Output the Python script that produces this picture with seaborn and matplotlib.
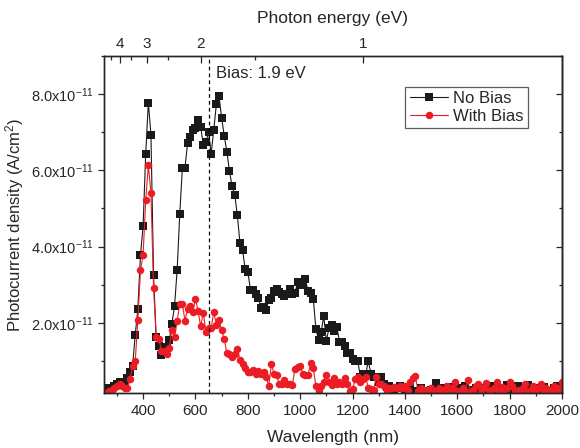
import numpy as np
import pandas as pd
import matplotlib
matplotlib.use('Agg')
import matplotlib.pyplot as plt
import seaborn as sns
from matplotlib.ticker import MultipleLocator, FixedLocator

# Wavelength grid (nm) and photocurrent (x1e-11 A/cm^2)
wavelength = np.arange(250, 2001, 10)

no_bias = [
    0.20, 0.25, 0.30, 0.28, 0.35, 0.40, 0.45, 0.38, 0.42, 0.55,   # 250-340
    0.70, 0.88, 1.69, 2.37, 3.78, 4.53, 6.43, 7.78, 6.94, 3.25,   # 350-440
    1.62, 1.40, 1.16, 1.36, 1.35, 1.55, 1.98, 2.43, 3.38, 4.85,   # 450-540
    6.06, 6.07, 6.72, 6.88, 7.06, 7.12, 7.31, 7.14, 6.66, 6.74,   # 550-640
    7.01, 6.44, 7.06, 7.75, 7.94, 7.38, 6.90, 6.49, 5.97, 5.58,   # 650-740
    5.36, 4.82, 4.09, 3.91, 3.40, 3.34, 2.87, 2.87, 2.76, 2.64,   # 750-840
    2.40, 2.42, 2.33, 2.61, 2.64, 2.84, 2.88, 2.81, 2.75, 2.70,   # 850-940
    2.75, 2.88, 2.75, 2.78, 3.07, 2.99, 3.03, 3.14, 2.83, 2.78,   # 950-1040
    2.63, 1.84, 1.56, 1.76, 2.17, 1.52, 1.87, 1.95, 1.78, 1.89,   # 1050-1140
    1.51, 1.49, 1.38, 1.20, 1.20, 1.05, 0.99, 0.99, 0.59, 0.66,   # 1150-1240
    0.62, 1.01, 0.67, 0.59, 0.57, 0.46, 0.57, 0.39, 0.32, 0.35,   # 1250-1340
    0.23, 0.22, 0.30, 0.35, 0.28, 0.25, 0.18, 0.30, 0.15, 0.22,   # 1350-1440
    0.12, 0.28, 0.20, 0.10, 0.18, 0.25, 0.15, 0.43, 0.20, 0.12,   # 1450-1540
    0.28, 0.18, 0.32, 0.15, 0.22, 0.30, 0.12, 0.20, 0.35, 0.18,   # 1550-1640
    0.10, 0.25, 0.30, 0.15, 0.22, 0.12, 0.28, 0.20, 0.35, 0.15,   # 1650-1740
    0.25, 0.10, 0.30, 0.18, 0.38, 0.20, 0.12, 0.28, 0.35, 0.15,   # 1750-1840
    0.22, 0.10, 0.38, 0.20, 0.25, 0.15, 0.30, 0.12, 0.32, 0.18,   # 1850-1940
    0.22, 0.10, 0.28, 0.35, 0.20, 0.30,                           # 1950-2000
]

with_bias = [
    0.15, 0.17, 0.20, 0.25, 0.28, 0.35, 0.39, 0.35, 0.28, 0.28,   # 250-340
    0.52, 0.88, 0.99, 2.08, 3.38, 3.78, 5.21, 6.13, 5.41, 2.92,   # 350-440
    1.62, 1.58, 1.27, 1.25, 1.18, 1.33, 1.82, 1.62, 2.04, 2.50,   # 450-540
    2.49, 2.06, 2.37, 2.43, 2.28, 2.63, 2.31, 1.91, 2.26, 1.77,   # 550-640
    1.87, 1.87, 2.28, 1.95, 2.08, 1.80, 1.58, 1.20, 1.18, 1.10,   # 650-740
    1.18, 1.32, 1.03, 0.92, 0.81, 0.72, 0.72, 0.76, 0.67, 0.74,   # 750-840
    0.67, 0.72, 0.57, 0.35, 0.92, 0.67, 0.64, 0.39, 0.39, 0.50,   # 850-940
    0.39, 0.39, 0.37, 0.79, 0.83, 0.88, 0.66, 0.64, 0.64, 0.94,   # 950-1040
    0.81, 0.35, 0.22, 0.35, 0.45, 0.64, 0.44, 0.37, 0.54, 0.39,   # 1050-1140
    0.44, 0.40, 0.54, 0.39, 0.22, 0.26, 0.52, 0.57, 0.44, 0.52,   # 1150-1240
    0.57, 0.30, 0.26, 0.23, 0.57, 0.39, 0.40, 0.35, 0.20, 0.30,   # 1250-1340
    0.28, 0.32, 0.28, 0.35, 0.30, 0.35, 0.25, 0.45, 0.55, 0.60,   # 1350-1440
    0.20, 0.30, 0.10, 0.25, 0.15, 0.28, 0.12, 0.22, 0.30, 0.18,   # 1450-1540
    0.25, 0.35, 0.15, 0.28, 0.45, 0.20, 0.12, 0.30, 0.22, 0.50,   # 1550-1640
    0.15, 0.25, 0.35, 0.40, 0.18, 0.30, 0.42, 0.25, 0.15, 0.30,   # 1650-1740
    0.45, 0.20, 0.32, 0.12, 0.28, 0.45, 0.35, 0.20, 0.25, 0.15,   # 1750-1840
    0.30, 0.40, 0.18, 0.25, 0.35, 0.15, 0.28, 0.40, 0.20, 0.30,   # 1850-1940
    0.12, 0.25, 0.35, 0.18, 0.30, 0.45,                           # 1950-2000
]

series_names = ['No Bias', 'With Bias']
ytick_values = [2e-11, 4e-11, 6e-11, 8e-11]
ytick_labels = ['2.0x10$^{-11}$', '4.0x10$^{-11}$', '6.0x10$^{-11}$', '8.0x10$^{-11}$']
energy_major = [4, 3, 2, 1]
energy_minor = [4.5, 3.5, 2.5, 1.5]
bias_energy = 1.9

df = pd.DataFrame({
    'wl': np.concatenate([wavelength, wavelength]),
    'j': np.concatenate([np.array(no_bias), np.array(with_bias)]) * 1e-11,
    'serie': [series_names[0]] * len(wavelength) + [series_names[1]] * len(wavelength),
})

sns.set_theme(style='ticks')
plt.rcParams['font.family'] = ['Liberation Sans', 'DejaVu Sans']
plt.rcParams['mathtext.fontset'] = 'custom'
plt.rcParams['mathtext.rm'] = 'Liberation Sans'
plt.rcParams['mathtext.it'] = 'Liberation Sans:italic'
plt.rcParams['axes.linewidth'] = 1.0

fig = plt.figure(figsize=(5.8, 4.48), dpi=100)
ax = fig.add_axes([0.179, 0.122, 0.790, 0.753])

sns.lineplot(data=df[df.serie == 'No Bias'], x='wl', y='j', color='#1a1a1a',
             marker='s', markersize=5.2, markeredgewidth=0, linewidth=0.8,
             label='No Bias', ax=ax)
sns.lineplot(data=df[df.serie == 'With Bias'], x='wl', y='j', color='#ec1c24',
             marker='o', markersize=5.4, markeredgewidth=0, linewidth=0.8,
             label='With Bias', ax=ax)

ax.axvline(1240 / bias_energy, color='black', linestyle='--', linewidth=0.9, dashes=(3, 2.5))
ax.text(1240 / bias_energy + 25, 8.55e-11, 'Bias: 1.9 eV', fontsize=12, va='center', ha='left')

ax.set_xlim(250, 2000)
ax.set_ylim(0.15e-11, 9.0e-11)
ax.xaxis.set_major_locator(MultipleLocator(200))
ax.xaxis.set_minor_locator(MultipleLocator(100))
ax.set_yticks(ytick_values)
ax.set_yticklabels(ytick_labels)
ax.yaxis.set_minor_locator(MultipleLocator(1e-11))
ax.tick_params(axis='x', which='both', direction='out', top=False, labelsize=11)
ax.tick_params(axis='y', which='both', direction='out', labelsize=10.5)
ax.tick_params(which='major', length=4, width=0.9)
ax.tick_params(which='minor', length=2.5, width=0.9)
ax.set_xlabel('Wavelength (nm)', fontsize=12.5, labelpad=9)
ax.set_ylabel('Photocurrent density (A/cm$^2$)', fontsize=12, labelpad=3)

# right axis ticks, pointing inward
axr = ax.secondary_yaxis('right')
axr.set_yticks(ytick_values)
axr.yaxis.set_minor_locator(MultipleLocator(1e-11))
axr.tick_params(which='both', direction='in', labelright=False)
axr.tick_params(which='major', length=4, width=0.9)
axr.tick_params(which='minor', length=2.5, width=0.9)

# top axis: photon energy
ax2 = ax.twiny()
ax2.set_xlim(ax.get_xlim())
ax2.xaxis.set_major_locator(FixedLocator([1240 / e for e in energy_major]))
ax2.xaxis.set_minor_locator(FixedLocator([1240 / e for e in energy_minor]))
ax2.set_xticklabels([str(e) for e in energy_major])
ax2.tick_params(which='both', direction='in', labelsize=11)
ax2.tick_params(which='major', length=5, width=0.9)
ax2.tick_params(which='minor', length=3, width=0.9)
ax2.set_xlabel('Photon energy (eV)', fontsize=12.5, labelpad=10)

leg = ax.legend(loc='upper right', bbox_to_anchor=(0.925, 0.908), borderaxespad=0,
                fontsize=12, frameon=True, fancybox=False, handlelength=2.3,
                handletextpad=0.3, borderpad=0.25, labelspacing=0.15)
leg.get_frame().set_edgecolor('#333333')
leg.get_frame().set_linewidth(0.9)

plt.savefig('out.png', dpi=100)
plt.close()
